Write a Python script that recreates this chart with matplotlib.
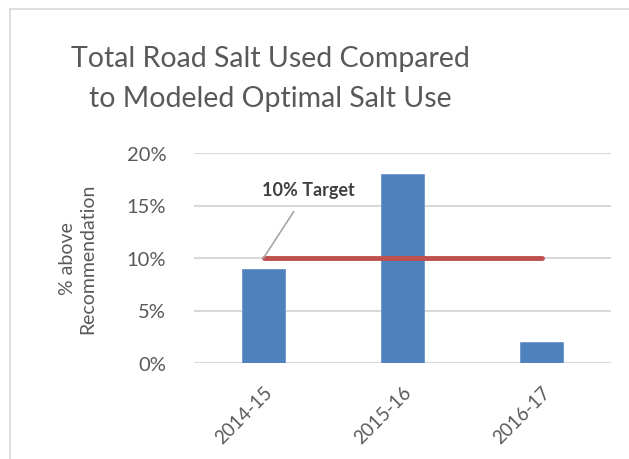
import matplotlib
matplotlib.use("Agg")
import matplotlib.pyplot as plt
from matplotlib.lines import Line2D
from matplotlib.ticker import PercentFormatter

categories = ["2014-15", "2015-16", "2016-17"]
values = [9, 18, 2]
target = 10
yticks = [0, 5, 10, 15, 20]

plt.rcParams['font.family'] = ['Lato', 'DejaVu Sans']
grey = '#595959'

W, H = 629, 460
fig = plt.figure(figsize=(W / 100, H / 100), dpi=100)
ax = fig.add_axes([194 / W, 1 - 364 / H, (611 - 194) / W, (364 - 154) / H])

x = list(range(len(categories)))
ax.bar(x, values, width=0.31, color='#4F81BD', edgecolor='#6D96CB', linewidth=0.6, zorder=3)
ax.plot([x[0], x[-1]], [target, target], color='#C0504D', linewidth=3.5,
        solid_capstyle='round', zorder=4)

ax.set_xlim(-0.5, len(categories) - 0.5)
ax.set_ylim(0, 20)
ax.set_yticks(yticks)
ax.yaxis.set_major_formatter(PercentFormatter(decimals=0))
ax.grid(axis='y', color='#D9D9D9', linewidth=1.5, zorder=0)
for s in ax.spines.values():
    s.set_visible(False)
ax.tick_params(length=0, colors=grey, labelsize=14.5)
ax.tick_params(axis='y', pad=20)
ax.set_xticks(x)
ax.set_xticklabels(categories, rotation=45, ha='right', rotation_mode='anchor', fontsize=13.5)
ax.tick_params(axis='x', pad=14)

ax.set_ylabel("% above\nRecommendation", color=grey, fontsize=14, labelpad=22, linespacing=1.25)

ax.annotate("10% Target", xy=(x[0], target), xytext=(0.32, 16.5),
            ha='center', va='center', fontsize=13, fontweight='bold', color='#404040',
            arrowprops=dict(arrowstyle='-', color='#A6A6A6', linewidth=1.2,
                            shrinkA=9, shrinkB=0), zorder=5)

fig.text(270 / W, 1 - 46 / H, "Total Road Salt Used Compared\nto Modeled Optimal Salt Use",
         color=grey, fontsize=20.5, ha='center', va='top', linespacing=1.65)

fig.add_artist(Line2D([10 / W, 1], [1 - 10 / H, 1 - 10 / H], transform=fig.transFigure,
                      color='#D9D9D9', linewidth=1.2))
fig.add_artist(Line2D([10 / W, 10 / W], [0, 1 - 10 / H], transform=fig.transFigure,
                      color='#D9D9D9', linewidth=1.2))

fig.savefig("out.png", dpi=100)
